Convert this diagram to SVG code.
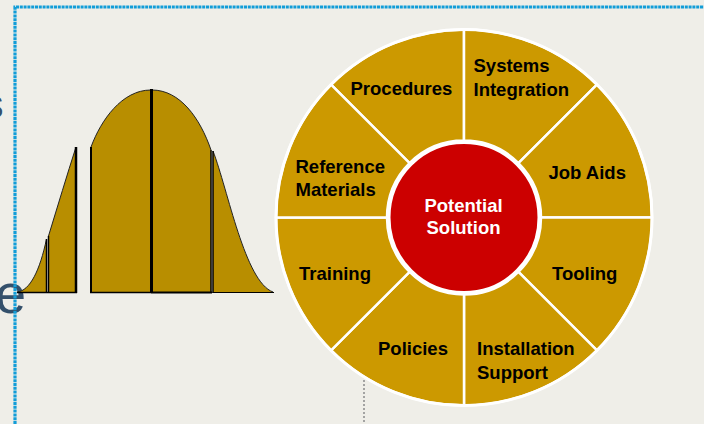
<svg xmlns="http://www.w3.org/2000/svg" width="704" height="424" viewBox="0 0 704 424">
<style>
.bg{fill:#efeee8}
.sec{fill:#cc9900;stroke:#ffffff;stroke-width:2.5;stroke-linejoin:round}
.lbl{font-family:"Liberation Sans",Arial,sans-serif;font-weight:bold;font-size:18.5px;fill:#000}
.ctr{font-family:"Liberation Sans",Arial,sans-serif;font-weight:bold;font-size:18.5px;fill:#ffffff}
.bell{fill:#b88e00;stroke:none}
.edge{fill:none;stroke:#222;stroke-width:1}
.vl{stroke:#000}
.frag{font-family:"Liberation Sans",Arial,sans-serif;fill:#34506b}
</style>
<rect class="bg" x="0" y="0" width="704" height="424"/>
<text class="frag" x="-16.5" y="118" font-size="40">s</text>
<text class="frag" x="-5" y="313" font-size="56">e</text>
<line x1="364" y1="380" x2="364" y2="424" stroke="#8a8a8a" stroke-width="1.5" stroke-dasharray="2 2"/>
<g id="bell-curve">
  <path class="bell" d="M17,292 C30,291 40,270 46.5,239 L46.5,292 Z"/>
  <path class="edge" d="M17,292 C30,291 40,270 46.5,239"/>
  <path class="bell" d="M48.5,236 C58,205 67,175 76,147 L76,292 L48.5,292 Z"/>
  <path class="edge" d="M48.5,236 C58,205 67,175 76,147"/>
  <path class="bell" d="M91,147 C101,120 122,90 151,90 L151,292 L91,292 Z"/>
  <path class="edge" d="M91,147 C101,120 122,90 151,90"/>
  <path class="bell" d="M152,90 C180,90 200,118 211,150 L211,292 L152,292 Z"/>
  <path class="edge" d="M152,90 C180,90 200,118 211,150"/>
  <path class="bell" d="M213,151 C228,190 245,282 273,292 L213,292 Z"/>
  <path class="edge" d="M213,151 C228,190 245,282 273,292"/>
  <line class="vl" x1="46.5" y1="239" x2="46.5" y2="292.5" stroke-width="1.5"/>
  <line class="vl" x1="48.5" y1="236" x2="48.5" y2="292.5" stroke-width="1.5"/>
  <line class="vl" x1="76" y1="147" x2="76" y2="293" stroke-width="2.5"/>
  <line class="vl" x1="91" y1="147" x2="91" y2="293" stroke-width="2"/>
  <line class="vl" x1="151.5" y1="89" x2="151.5" y2="293" stroke-width="3"/>
  <line class="vl" x1="211" y1="150" x2="211" y2="293" stroke-width="1.5"/>
  <line class="vl" x1="213" y1="151" x2="213" y2="293" stroke-width="1.5"/>
  <line class="vl" x1="17" y1="292.5" x2="77" y2="292.5" stroke-width="1.5"/>
  <line class="vl" x1="90" y1="292.5" x2="151" y2="292.5" stroke-width="1.5"/>
  <line class="vl" x1="151" y1="292.5" x2="212" y2="292.5" stroke-width="2"/>
  <line class="vl" x1="212.5" y1="292.5" x2="274" y2="292.5" stroke-width="1"/>
</g>
<g id="procedures">
  <path class="sec" d="M331.06,84.56 A188,188 0 0 1 464,29.5 L464,140.5 A77,77 0 0 0 409.55,163.05 Z"/>
  <text class="lbl" x="350.5" y="95">Procedures</text>
</g>
<g id="systems-integration">
  <path class="sec" d="M464,29.5 A188,188 0 0 1 596.94,84.56 L518.45,163.05 A77,77 0 0 0 464,140.5 Z"/>
  <text class="lbl" x="473.5" y="72">Systems</text>
  <text class="lbl" x="473.5" y="96">Integration</text>
</g>
<g id="job-aids">
  <path class="sec" d="M596.94,84.56 A188,188 0 0 1 652,217.5 L541,217.5 A77,77 0 0 0 518.45,163.05 Z"/>
  <text class="lbl" x="548.5" y="179">Job Aids</text>
</g>
<g id="tooling">
  <path class="sec" d="M652,217.5 A188,188 0 0 1 596.94,350.44 L518.45,271.95 A77,77 0 0 0 541,217.5 Z"/>
  <text class="lbl" x="552" y="280">Tooling</text>
</g>
<g id="installation-support">
  <path class="sec" d="M596.94,350.44 A188,188 0 0 1 464,405.5 L464,294.5 A77,77 0 0 0 518.45,271.95 Z"/>
  <text class="lbl" x="477" y="355">Installation</text>
  <text class="lbl" x="477" y="379">Support</text>
</g>
<g id="policies">
  <path class="sec" d="M464,405.5 A188,188 0 0 1 331.06,350.44 L409.55,271.95 A77,77 0 0 0 464,294.5 Z"/>
  <text class="lbl" x="378" y="355">Policies</text>
</g>
<g id="training">
  <path class="sec" d="M331.06,350.44 A188,188 0 0 1 276,217.5 L387,217.5 A77,77 0 0 0 409.55,271.95 Z"/>
  <text class="lbl" x="299" y="280">Training</text>
</g>
<g id="reference-materials">
  <path class="sec" d="M276,217.5 A188,188 0 0 1 331.06,84.56 L409.55,163.05 A77,77 0 0 0 387,217.5 Z"/>
  <text class="lbl" x="295.5" y="173">Reference</text>
  <text class="lbl" x="295.5" y="196">Materials</text>
</g>
<circle cx="464" cy="217.5" r="188" fill="none" stroke="#ffffff" stroke-width="3"/>
<g id="potential-solution">
  <circle cx="464" cy="217.5" r="75" fill="#cc0000" stroke="#ffffff" stroke-width="3"/>
  <text class="ctr" x="463.5" y="212" text-anchor="middle">Potential</text>
  <text class="ctr" x="463.5" y="234" text-anchor="middle">Solution</text>
</g>
<g id="frame">
  <path d="M15,424 L15,7 L704,7" fill="none" stroke="#129dd8" stroke-width="3.2" stroke-dasharray="3 0.8"/>
</g>
</svg>
